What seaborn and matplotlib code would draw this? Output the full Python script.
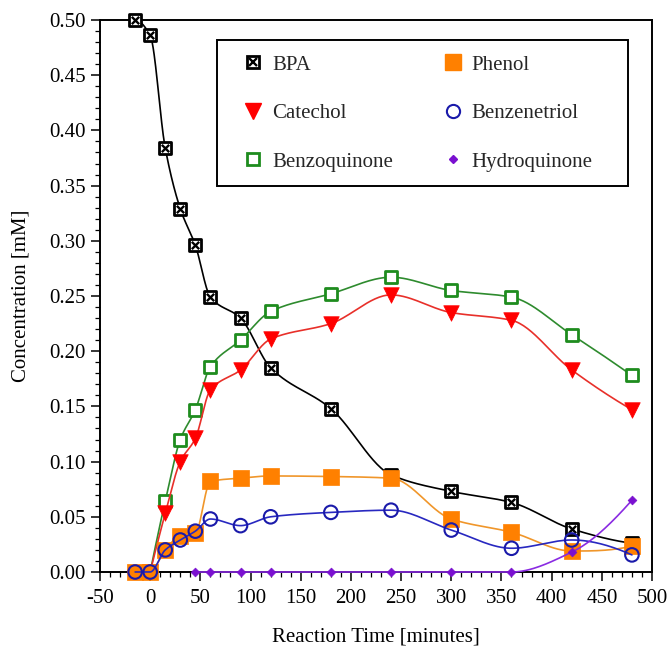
import numpy as np
import pandas as pd
import matplotlib
matplotlib.use("Agg")
import matplotlib.pyplot as plt
from matplotlib.lines import Line2D
from matplotlib.patches import Rectangle
import seaborn as sns

# ---------------- data ----------------
t_bpa = [-15, 0, 15, 30, 45, 60, 90, 120, 180, 240, 300, 360, 420, 480]
bpa = [0.500, 0.486, 0.384, 0.329, 0.296, 0.249, 0.230, 0.185, 0.148, 0.088, 0.073, 0.063, 0.039, 0.026]

t_phenol = [-15, 0, 15, 30, 45, 60, 90, 120, 180, 240, 300, 360, 420, 480]
phenol = [0.0, 0.0, 0.020, 0.033, 0.035, 0.082, 0.085, 0.087, 0.0865, 0.085, 0.048, 0.036, 0.019, 0.0235]

t_catechol = [0, 15, 30, 45, 60, 90, 120, 180, 240, 300, 360, 420, 480]
catechol = [0.0, 0.053, 0.100, 0.121, 0.165, 0.183, 0.211, 0.225, 0.251, 0.235, 0.228, 0.183, 0.147]

t_benzenetriol = [-15, 0, 15, 30, 45, 60, 90, 120, 180, 240, 300, 360, 420, 480]
benzenetriol = [0.0, 0.0, 0.020, 0.029, 0.037, 0.048, 0.042, 0.050, 0.054, 0.056, 0.038, 0.0215, 0.029, 0.0155]

t_benzoquinone = [0, 15, 30, 45, 60, 90, 120, 180, 240, 300, 360, 420, 480]
benzoquinone = [0.0, 0.064, 0.120, 0.147, 0.186, 0.210, 0.236, 0.252, 0.267, 0.255, 0.249, 0.215, 0.178]

t_hydroquinone = [45, 60, 90, 120, 180, 240, 300, 360, 420, 480]
hydroquinone = [0.0, 0.0, 0.0, 0.0, 0.0, 0.0, 0.0, 0.0, 0.018, 0.065]

x_ticks = [-50, 0, 50, 100, 150, 200, 250, 300, 350, 400, 450, 500]
y_ticks = [0.00, 0.05, 0.10, 0.15, 0.20, 0.25, 0.30, 0.35, 0.40, 0.45, 0.50]


# ---------------- smooth connecting curve (monotone cubic, like Origin spline) ----------------
def pchip_curve(x, y, n=30):
    x = np.asarray(x, float)
    y = np.asarray(y, float)
    h = np.diff(x)
    d = np.diff(y) / h
    m = np.zeros_like(y)
    for k in range(1, len(x) - 1):
        if d[k - 1] * d[k] <= 0:
            m[k] = 0.0
        else:
            w1 = 2 * h[k] + h[k - 1]
            w2 = h[k] + 2 * h[k - 1]
            m[k] = (w1 + w2) / (w1 / d[k - 1] + w2 / d[k])

    def end(h0, h1, d0, d1):
        v = ((2 * h0 + h1) * d0 - h0 * d1) / (h0 + h1)
        if np.sign(v) != np.sign(d0):
            return 0.0
        if np.sign(d0) != np.sign(d1) and abs(v) > abs(3 * d0):
            return 3 * d0
        return v

    if len(x) > 2:
        m[0] = end(h[0], h[1], d[0], d[1])
        m[-1] = end(h[-1], h[-2], d[-1], d[-2])
    else:
        m[:] = d[0]
    xs, ys = [], []
    for k in range(len(x) - 1):
        s = np.linspace(0, 1, n, endpoint=(k == len(x) - 2))
        h00 = 2 * s**3 - 3 * s**2 + 1
        h10 = s**3 - 2 * s**2 + s
        h01 = -2 * s**3 + 3 * s**2
        h11 = s**3 - s**2
        xs.append(x[k] + s * h[k])
        ys.append(h00 * y[k] + h10 * h[k] * m[k] + h01 * y[k + 1] + h11 * h[k] * m[k + 1])
    return np.concatenate(xs), np.concatenate(ys)


# ---------------- figure ----------------
sns.set_theme(style="ticks")
plt.rcParams["font.family"] = ["Liberation Serif", "DejaVu Serif"]
plt.rcParams["mathtext.fontset"] = "stix"

fig = plt.figure(figsize=(6.71, 6.47), dpi=100)
ax = fig.add_axes([100 / 671, 1 - 572 / 647, 552 / 671, 552 / 647])

series = [
    # name, t, v, line color, zorder
    ("BPA", t_bpa, bpa, "#000000", 3),
    ("Benzoquinone", t_benzoquinone, benzoquinone, "#2E8B2E", 4),
    ("Catechol", t_catechol, catechol, "#E8302A", 5),
    ("Phenol", t_phenol, phenol, "#F0962A", 6),
    ("Benzenetriol", t_benzenetriol, benzenetriol, "#2828C0", 7),
    ("Hydroquinone", t_hydroquinone, hydroquinone, "#8A2BE2", 8),
]

for name, t, v, col, z in series:
    xs, ys = pchip_curve(t, v)
    sns.lineplot(x=xs, y=ys, ax=ax, color=col, lw=1.2, zorder=z, sort=False,
                 estimator=None, clip_on=False)

def pts(t, v):
    return pd.DataFrame({"t": t, "v": v})

# BPA: open square with X
sns.scatterplot(data=pts(t_bpa, bpa), x="t", y="v", ax=ax, marker="s", s=80,
                facecolor="white", edgecolor="black", linewidth=2.0, zorder=3.1, clip_on=False)
sns.scatterplot(data=pts(t_bpa, bpa), x="t", y="v", ax=ax, marker="x", s=28,
                color="black", linewidth=1.7, zorder=3.2, clip_on=False)
# Benzoquinone: open green square
sns.scatterplot(data=pts(t_benzoquinone, benzoquinone), x="t", y="v", ax=ax, marker="s", s=80,
                facecolor="white", edgecolor="#1E8C1E", linewidth=2.0, zorder=4.1, clip_on=False)
# Catechol: red down triangle
sns.scatterplot(data=pts(t_catechol, catechol), x="t", y="v", ax=ax, marker="v", s=125,
                color="#FF0000", edgecolor="#FF0000", linewidth=0.5, zorder=5.1, clip_on=False)
# Phenol: filled orange square
sns.scatterplot(data=pts(t_phenol, phenol), x="t", y="v", ax=ax, marker="s", s=125,
                color="#FF8000", edgecolor="#FF8000", linewidth=0.5, zorder=6.1, clip_on=False)
# Benzenetriol: open blue circle
sns.scatterplot(data=pts(t_benzenetriol, benzenetriol), x="t", y="v", ax=ax, marker="o", s=95,
                facecolor="none", edgecolor="#1A1AAA", linewidth=1.5, zorder=7.1, clip_on=False)
# Hydroquinone: small purple diamond
sns.scatterplot(data=pts(t_hydroquinone, hydroquinone), x="t", y="v", ax=ax, marker="D", s=20,
                color="#7A10D0", edgecolor="#7A10D0", linewidth=0.5, zorder=8.1, clip_on=False)

# ---------------- axes styling ----------------
ax.set_xlim(-50, 500)
ax.set_ylim(0, 0.5)
ax.set_xticks(x_ticks)
ax.set_xticklabels([str(v) for v in x_ticks])
ax.set_yticks(y_ticks)
ax.set_yticklabels([f"{v:.2f}" for v in y_ticks])
ax.set_xticks(np.arange(-50, 501, 10), minor=True)
ax.set_yticks(np.arange(0, 0.5001, 0.01), minor=True)
ax.tick_params(axis="both", which="major", direction="out", length=6.5, width=1.1,
               labelsize=15, colors="black")
ax.tick_params(axis="x", which="major", pad=5.5)
ax.tick_params(axis="y", which="major", pad=4)
ax.tick_params(axis="both", which="minor", direction="out", length=3.5, width=0.9, colors="black")
ax.tick_params(top=False, right=False, which="both")
for sp in ax.spines.values():
    sp.set_visible(True)
    sp.set_color("black")
    sp.set_linewidth(1.4)
ax.set_xlabel("Reaction Time [minutes]", fontsize=15, color="black", labelpad=14)
ax.set_ylabel("Concentration [mM]", fontsize=15, color="black", labelpad=13)

# ---------------- legend ----------------
frame = Rectangle((117 / 552, 386 / 552), 411 / 552, 146 / 552, transform=ax.transAxes,
                  facecolor="white", edgecolor="black", linewidth=1.4, zorder=9)
ax.add_patch(frame)

h_bpa = (Line2D([], [], ls="none", marker="s", ms=9, mfc="white", mec="black", mew=2.0),
         Line2D([], [], ls="none", marker="x", ms=5.3, mec="black", mew=1.7))
h_cat = Line2D([], [], ls="none", marker="v", ms=11, color="#FF0000")
h_bq = Line2D([], [], ls="none", marker="s", ms=9, mfc="white", mec="#1E8C1E", mew=2.0)
h_ph = Line2D([], [], ls="none", marker="s", ms=11, color="#FF8000")
h_bt = Line2D([], [], ls="none", marker="o", ms=9.5, mfc="none", mec="#1A1AAA", mew=1.5)
h_hq = Line2D([], [], ls="none", marker="D", ms=4.5, color="#7A10D0")
leg = ax.legend([h_bpa, h_cat, h_bq, h_ph, h_bt, h_hq],
                ["BPA", "Catechol", "Benzoquinone", "Phenol", "Benzenetriol", "Hydroquinone"],
                ncol=2, loc="upper left", bbox_to_anchor=(142.6 / 552, 517 / 552),
                fontsize=15, frameon=False, borderpad=0, borderaxespad=0,
                labelspacing=1.39, handlelength=1.0, handletextpad=0.41, columnspacing=2.38)
leg.set_zorder(10)

fig.savefig("out.png", dpi=100)
